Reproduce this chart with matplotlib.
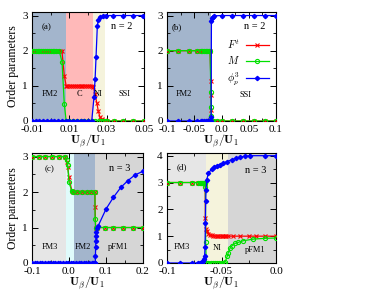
import matplotlib
matplotlib.use("Agg")
import matplotlib.pyplot as plt
from matplotlib.ticker import AutoMinorLocator

plt.rcParams["font.family"] = "serif"
plt.rcParams["font.serif"] = ["Liberation Serif", "DejaVu Serif"]
plt.rcParams["mathtext.fontset"] = "cm"

# ---- panel (a): n = 2 ----
a_x_F = [-0.01, -0.009, -0.008, -0.007, -0.006, -0.005, -0.004, -0.003, -0.002, -0.001,
         0.0, 0.001, 0.002, 0.003, 0.004, 0.005, 0.006, 0.0073, 0.0083, 0.009, 0.010,
         0.011, 0.012, 0.013, 0.014, 0.015, 0.016, 0.017, 0.018, 0.019, 0.020, 0.021,
         0.022, 0.0228, 0.0238, 0.0247, 0.0255, 0.0264, 0.0275, 0.0291, 0.030, 0.034,
         0.039, 0.044, 0.05]
a_F = [2, 2, 2, 2, 2, 2, 2, 2, 2, 2,
       2, 2, 2, 2, 2, 2, 2, 1.29, 1.0, 1.0, 1.0,
       1.0, 1.0, 1.0, 1.0, 1.0, 1.0, 1.0, 1.0, 1.0, 1.0, 1.0,
       1.0, 0.98, 0.76, 0.52, 0.29, 0.11, 0.05, 0.03, 0.0, 0.0,
       0.0, 0.0, 0.0]
a_x_M = [-0.01, -0.009, -0.008, -0.007, -0.006, -0.005, -0.004, -0.003, -0.002, -0.001,
         0.0, 0.001, 0.002, 0.003, 0.0046, 0.0061, 0.0073, 0.0083, 0.010, 0.012, 0.014,
         0.016, 0.018, 0.020, 0.022, 0.024, 0.026, 0.027, 0.028, 0.029, 0.030, 0.034,
         0.039, 0.044, 0.05]
a_M = [2, 2, 2, 2, 2, 2, 2, 2, 2, 2,
       2, 2, 2, 2, 2, 1.67, 0.48, 0.0, 0.0, 0.0, 0.0,
       0.0, 0.0, 0.0, 0.0, 0.0, 0.0, 0.0, 0.0, 0.0, 0.0, 0.0,
       0.0, 0.0, 0.0]
a_x_P = [-0.01, -0.008, -0.006, -0.004, -0.002, 0.0, 0.002, 0.004, 0.006, 0.008,
         0.010, 0.012, 0.014, 0.016, 0.018, 0.020, 0.022, 0.0232, 0.0238, 0.0243,
         0.025, 0.0255, 0.0264, 0.0282, 0.0296, 0.0334, 0.039, 0.044, 0.0495]
a_P = [0, 0, 0, 0, 0, 0, 0, 0, 0, 0,
       0, 0, 0, 0, 0, 0, 0, 0.67, 1.19, 1.81,
       2.71, 2.86, 2.95, 3.0, 3.0, 3.0, 3.0, 3.0, 3.0]

# ---- panel (b): n = 2 ----
b_x = [-0.1, -0.08, -0.06, -0.045, -0.038, -0.035, -0.032, -0.029, -0.026, -0.023,
       -0.021, -0.0195, -0.019, -0.0185, -0.018, -0.016, -0.009, 0.0, 0.02, 0.04,
       0.06, 0.08, 0.1]
b_F = [2, 2, 2, 2, 2, 2, 2, 2, 2, 2,
       2, 1.15, 0.75, 0.3, 0.0, 0.0, 0.0, 0.0, 0.0, 0.0,
       0.0, 0.0, 0.0]
b_M = [2, 2, 2, 2, 2, 2, 2, 2, 2, 2,
       2, 0.82, 0.4, 0.15, 0.0, 0.0, 0.0, 0.0, 0.0, 0.0,
       0.0, 0.0, 0.0]
b_x_P = [-0.1, -0.08, -0.06, -0.045, -0.038, -0.035, -0.032, -0.029, -0.026, -0.023,
         -0.021, -0.0195, -0.019, -0.0185, -0.017, -0.015, -0.013, 0.0, 0.02, 0.04,
         0.06, 0.08, 0.1]
b_P = [0, 0, 0, 0, 0, 0, 0, 0, 0, 0,
       0, 0, 0.1, 2.85, 2.93, 2.97, 2.99, 3.0, 3.0, 3.0,
       3.0, 3.0, 3.0]

# ---- panel (c): n = 3 ----
c_x = [-0.1, -0.082, -0.064, -0.046, -0.028, -0.01, -0.0062, -0.0035, 0.0, 0.0073,
       0.010, 0.021, 0.034, 0.048, 0.060, 0.070, 0.0705, 0.072, 0.0747, 0.097,
       0.12, 0.147, 0.174, 0.199]
c_F = [3, 3, 3, 3, 3, 3, 2.84, 2.7, 2.42, 2.04,
       2, 2, 2, 2, 2, 2, 1.57, 1.0, 1.0, 1.0,
       1.0, 1.0, 1.0, 1.0]
c_M = [3, 3, 3, 3, 3, 3, 2.9, 2.75, 2.27, 2.04,
       2, 2, 2, 2, 2, 2, 1.24, 1.0, 1.0, 1.0,
       1.0, 1.0, 1.0, 1.0]
c_x_P = [-0.1, -0.093, -0.086, -0.079, -0.072, -0.065, -0.058, -0.051, -0.044, -0.037,
         -0.03, -0.023, -0.016, -0.009, -0.002, 0.005, 0.012, 0.019, 0.026, 0.033,
         0.04, 0.047, 0.054, 0.061, 0.066, 0.069, 0.071, 0.0715, 0.072, 0.0725,
         0.073, 0.074, 0.0748, 0.079, 0.1, 0.12, 0.14, 0.159, 0.178, 0.199]
c_P = [0, 0, 0, 0, 0, 0, 0, 0, 0, 0,
       0, 0, 0, 0, 0, 0, 0, 0, 0, 0,
       0, 0, 0, 0, 0, 0, 0, 0.2, 0.45, 0.62,
       0.76, 0.88, 0.98, 1.05, 1.52, 1.85, 2.13, 2.32, 2.48, 2.58]

# ---- panel (d): n = 3 ----
d_x_F = [-0.1, -0.088, -0.077, -0.072, -0.070, -0.069, -0.068, -0.067, -0.066, -0.0655,
         -0.065, -0.0648, -0.0644, -0.0636, -0.062, -0.0605, -0.059, -0.0575, -0.056, -0.0545,
         -0.053, -0.0515, -0.05, -0.0485, -0.047, -0.0455, -0.044, -0.039, -0.033, -0.025,
         -0.018, -0.01, 0.0]
d_F = [3, 3, 3, 3, 3, 3, 3, 3, 3, 3,
       3, 1.69, 1.27, 1.18, 1.09, 1.05, 1.03, 1.02, 1.01, 1.0,
       1.0, 1.0, 1.0, 1.0, 1.0, 1.0, 1.0, 1.0, 1.0, 1.0,
       1.0, 1.0, 1.0]
d_x_M = [-0.1, -0.088, -0.077, -0.072, -0.070, -0.069, -0.068, -0.067, -0.066, -0.0655,
         -0.065, -0.0648, -0.0645, -0.064, -0.062, -0.06, -0.058, -0.056, -0.054, -0.052,
         -0.05, -0.048, -0.0465, -0.0447, -0.0438, -0.0422, -0.0406, -0.0376, -0.0346, -0.03,
         -0.0208, -0.01, 0.0]
d_M = [3, 3, 3, 3, 3, 3, 3, 3, 3, 3,
       2.97, 2.84, 0.77, 0.0, 0.0, 0.0, 0.0, 0.0, 0.0, 0.0,
       0.0, 0.0, 0.05, 0.26, 0.39, 0.55, 0.64, 0.73, 0.77, 0.83,
       0.89, 0.92, 0.93]
d_x_P = [-0.1, -0.088, -0.077, -0.072, -0.0697, -0.068, -0.0667, -0.066, -0.0655, -0.0651,
         -0.0648, -0.0645, -0.0642, -0.0636, -0.062, -0.059, -0.057, -0.0544, -0.051, -0.0483,
         -0.045, -0.0406, -0.037, -0.033, -0.028, -0.0239, -0.01, 0.0]
d_P = [0, 0, 0, 0, 0.01, 0.03, 0.08, 0.15, 0.26, 0.6,
       1.5, 2.3, 2.72, 3.1, 3.35, 3.5, 3.57, 3.62, 3.67, 3.72,
       3.78, 3.85, 3.9, 3.95, 3.98, 4.0, 4.0, 4.0]

# phase regions: (start, end, colour)
a_regions = [(-0.01, 0.008, "#a3b5cc"), (0.008, 0.0229, "#ffb9b9"), (0.0229, 0.0293, "#f5f3dc")]
b_regions = [(-0.1, -0.019, "#a3b5cc")]
c_regions = [(-0.1, -0.009, "#e6e6e6"), (-0.009, 0.0135, "#e0fbfb"),
             (0.0135, 0.0705, "#a3b5cc"), (0.0705, 0.2, "#d6d6d6")]
d_regions = [(-0.1, -0.0645, "#e6e6e6"), (-0.0645, -0.0438, "#f5f3dc"), (-0.0438, 0.0, "#d6d6d6")]

W, H = 383, 292
fig = plt.figure(figsize=(W / 100, H / 100), dpi=100)


def make_ax(l, t, r, b):
    return fig.add_axes([l / W, (H - b) / H, (r - l) / W, (b - t) / H])


ax_a = make_ax(32, 12, 144, 121)
ax_b = make_ax(167, 12, 276, 121)
ax_c = make_ax(32, 153, 143, 263)
ax_d = make_ax(167, 153, 276, 263)


def draw(ax, regions, xF, F, xM, M, xP, P, xlim, ylim, xticks, xticklabels, yticks):
    for x0, x1, col in regions:
        ax.axvspan(x0, x1, color=col, lw=0, zorder=0)
    ax.plot(xF, F, color="red", marker="x", ms=3.5, mew=0.8, lw=0.9, label="$F^t$", zorder=3)
    ax.plot(xM, M, color="#00e000", marker="o", ms=3, mfc="none", mew=0.8, lw=0.9,
            label="$M$", zorder=4)
    ax.plot(xP, P, color="blue", marker="D", ms=2.2, lw=0.9, label=r"$\phi_p^3$", zorder=5)
    ax.set_xlim(*xlim)
    ax.set_ylim(*ylim)
    ax.set_xticks(xticks)
    ax.set_xticklabels(xticklabels)
    ax.set_yticks(yticks)
    ax.xaxis.set_minor_locator(AutoMinorLocator(2))
    ax.yaxis.set_minor_locator(AutoMinorLocator(2))
    ax.tick_params(which="both", direction="in", top=True, right=True, labelsize=8)
    ax.tick_params(axis="x", pad=3)
    ax.tick_params(axis="y", pad=3)
    ax.tick_params(which="major", length=4, width=0.7)
    ax.tick_params(which="minor", length=2, width=0.6)
    for s in ax.spines.values():
        s.set_linewidth(0.8)
    ax.set_xlabel(r"$\mathbf{U}_\beta/\mathbf{U}_1$", fontsize=8.5, labelpad=-1)


draw(ax_a, a_regions, a_x_F, a_F, a_x_M, a_M, a_x_P, a_P, (-0.01, 0.05), (0, 3.1),
     [-0.01, 0.01, 0.03, 0.05], ["-0.01", "0.01", "0.03", "0.05"], [0, 1, 2, 3])
draw(ax_b, b_regions, b_x, b_F, b_x, b_M, b_x_P, b_P, (-0.1, 0.1), (0, 3.1),
     [-0.1, -0.05, 0.0, 0.05, 0.1], ["-0.1", "-0.05", "0.0", "0.05", "0.1"], [0, 1, 2, 3])
draw(ax_c, c_regions, c_x, c_F, c_x, c_M, c_x_P, c_P, (-0.1, 0.2), (0, 3.1),
     [-0.1, 0.0, 0.1, 0.2], ["-0.1", "0.0", "0.1", "0.2"], [0, 1, 2, 3])
draw(ax_d, d_regions, d_x_F, d_F, d_x_M, d_M, d_x_P, d_P, (-0.1, 0.0), (0, 4.1),
     [-0.1, -0.05, 0.0], ["-0.1", "-0.05", "0.0"], [0, 1, 2, 3, 4])

for ax in (ax_a, ax_c):
    ax.set_ylabel("Order parameters", fontsize=8.5, labelpad=2)

ax_b.legend(loc="upper right", bbox_to_anchor=(0.97, 0.80), frameon=False, fontsize=7.5,
            markerfirst=False, handlelength=2.2, handletextpad=0.6, labelspacing=0.35,
            borderaxespad=0)

labels = [
    (ax_a, 0.13, 0.865, "(a)", 6.5), (ax_a, 0.80, 0.865, "n = 2", 7.5),
    (ax_a, 0.16, 0.25, "FM2", 6), (ax_a, 0.42, 0.25, "C", 6),
    (ax_a, 0.59, 0.25, "NI", 6), (ax_a, 0.83, 0.25, "SSI", 6),
    (ax_b, 0.09, 0.865, "(b)", 6.5), (ax_b, 0.80, 0.87, "n = 2", 7.5),
    (ax_b, 0.15, 0.25, "FM2", 6), (ax_b, 0.72, 0.24, "SSI", 6),
    (ax_c, 0.16, 0.85, "(c)", 6.5), (ax_c, 0.79, 0.86, "n = 3", 7.5),
    (ax_c, 0.16, 0.145, "FM3", 6), (ax_c, 0.46, 0.145, "FM2", 6),
    (ax_c, 0.775, 0.145, "pFM1", 6),
    (ax_d, 0.135, 0.87, "(d)", 6.5), (ax_d, 0.81, 0.84, "n = 3", 7.5),
    (ax_d, 0.14, 0.145, "FM3", 6), (ax_d, 0.46, 0.136, "NI", 6),
    (ax_d, 0.81, 0.118, "pFM1", 6),
]
for ax, x, y, s, fs in labels:
    ax.text(x, y, s, transform=ax.transAxes, ha="center", va="center", fontsize=fs, zorder=6)

fig.savefig("out.png", dpi=100)
